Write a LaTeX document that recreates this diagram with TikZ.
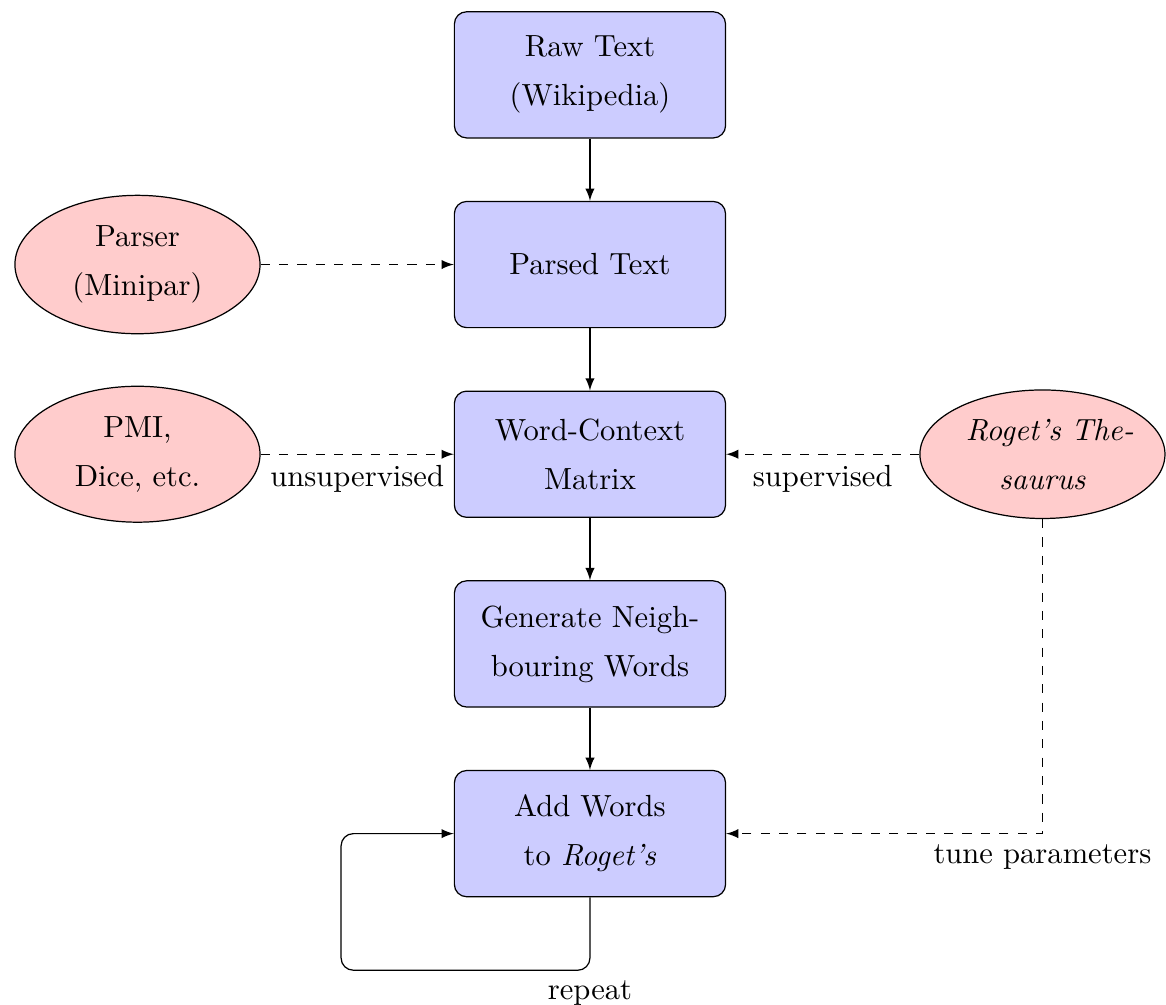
\documentclass[tikz,border=0pt]{standalone}
\usepackage{xcolor}
\usepackage{tikz}
\usetikzlibrary{shapes}
\usetikzlibrary{arrows}

\begin{document}
\begin{tikzpicture}[font=\fontsize{10}{16}\selectfont,
  boxnode/.style={draw,rectangle,rounded corners,fill=blue!20,text width=8.2em,align=center,minimum height=1.45cm},
  ellnode/.style={draw,ellipse,fill=red!20,text width=5em,align=center}]
  %\draw[help lines] (-7,-11) grid (7,1);
  \useasboundingbox (-6.78,-10.68) rectangle (6.62,0.86);

  \draw (0, 0)    node[boxnode](raw)    {Raw Text\\(Wikipedia)};
  \draw (0,-2.18) node[boxnode](parsed) {Parsed Text};
  \draw (0,-4.36) node[boxnode](wcm)    {Word-Context Matrix};
  \draw (0,-6.54) node[boxnode](gen)    {Generate Neighbouring Words};
  \draw (0,-8.72) node[boxnode](add)    {Add Words\\to \textit{Roget's}};

  \draw (-5.2,-2.18) node[ellnode](parser) {Parser (Minipar)};
  \draw (-5.2,-4.36) node[ellnode](pmi)    {PMI, Dice, etc.};
  \draw ( 5.2,-4.36) node[ellnode](roget)  {\textit{Roget's~Thesaurus}};

  \coordinate (loop) at (-2.86,-10.29);

  \draw[-latex] (raw) -- (parsed);
  \draw[-latex] (parsed) -- (wcm);
  \draw[-latex] (wcm) -- (gen);
  \draw[-latex] (gen) -- (add);

  \draw[-latex,dashed] (parser) -- (parsed);
  \draw[-latex,dashed] (pmi) -- (wcm)   node [midway,below] {unsupervised};
  \draw[-latex,dashed] (roget) -- (wcm) node [midway,below] {supervised};
  \draw[-latex,dashed] (roget) |- (add) node [pos=0.5,below] {tune parameters};

  \draw[-latex,rounded corners] (add) |- (loop) node [pos=0.5,below] {repeat} |- (add);

\end{tikzpicture}
\end{document}
